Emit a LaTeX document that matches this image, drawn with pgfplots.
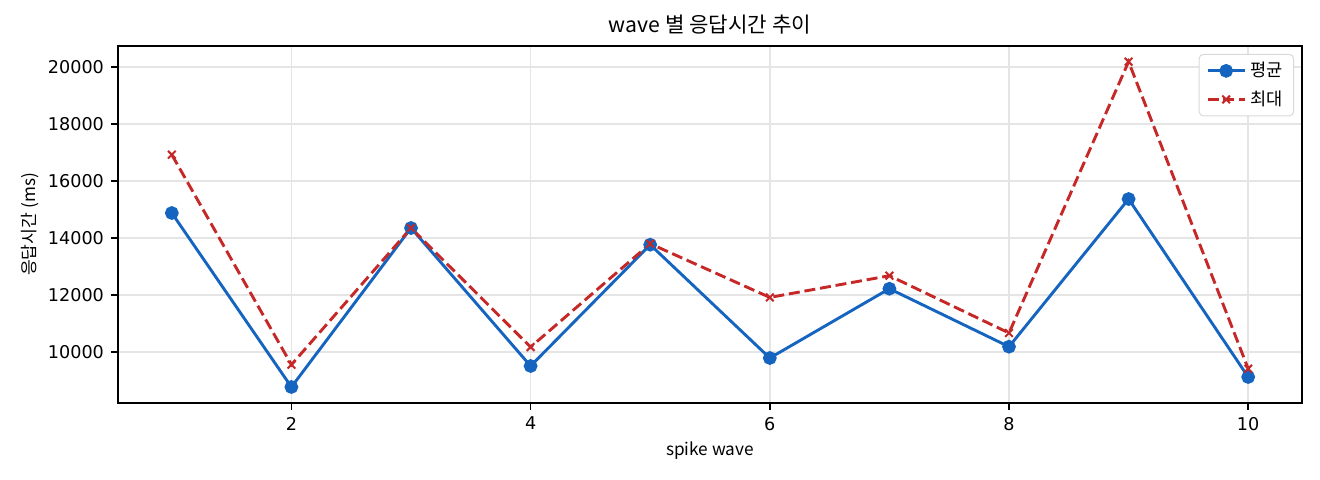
\documentclass[border=0pt]{standalone}
\usepackage{fontspec}
\setmainfont{Noto Sans CJK KR}
\newfontfamily\tickfont{DejaVu Sans}
\usepackage{pgfplots}
\pgfplotsset{compat=1.18}
\definecolor{avgblue}{HTML}{1565C0}
\definecolor{maxred}{HTML}{C62828}
\begin{document}
\begin{tikzpicture}
\useasboundingbox (-59pt,-38.5pt) rectangle (601pt,201.5pt);
\begin{axis}[
  at={(0,0)}, anchor=south west,
  scale only axis,
  width=592pt, height=178.5pt,
  xmin=0.55, xmax=10.45,
  ymin=8211, ymax=20737,
  xtick={2,4,6,8,10},
  ytick={10000,12000,14000,16000,18000,20000},
  /pgf/number format/assume math mode=true,
  /pgf/number format/set thousands separator={},
  scaled y ticks=false,
  tick align=outside,
  major tick length=3.5pt,
  xtick pos=lower, ytick pos=left,
  tick style={black, line width=0.83pt},
  axis line style={black, line width=0.83pt},
  grid=major,
  major grid style={color=black!10, line width=0.83pt},
  tick label style={font=\tickfont\fontsize{8.8}{10.5}\selectfont},
  title={wave 별 응답시간 추이},
  every axis title/.style={at={(axis description cs:0.5,1)}, anchor=base, yshift=6.5pt,
    font=\fontsize{10.6}{13}\selectfont},
  xlabel={spike wave},
  every axis x label/.style={at={(axis description cs:0.5,0)}, anchor=base, yshift=-26.5pt,
    font=\fontsize{8.6}{10.5}\selectfont},
  ylabel={응답시간 (ms)},
  every axis y label/.style={at={(axis description cs:0,0.5)}, xshift=-44pt, rotate=90, anchor=center,
    font=\fontsize{8.6}{10.5}\selectfont},
  legend style={at={(axis description cs:1,1)}, anchor=north east, xshift=-4pt, yshift=-4pt,
    draw=black!15, line width=0.5pt, rounded corners=2pt, fill=white,
    font=\fontsize{8.8}{10.5}\selectfont,
    row sep=1.5pt, inner xsep=3.5pt, inner ysep=1.8pt},
  legend cell align=left,
  legend image code/.code={
    \draw[mark repeat=2,mark phase=2,#1] plot coordinates {(0pt,0pt)(9.25pt,0pt)(18.5pt,0pt)};},
]
\addplot[color=avgblue, line width=1.45pt, mark=*, mark size=2.7pt, mark options={solid, fill=avgblue}]
  coordinates {
  (1,14877) (2,8772) (3,14351) (4,9509) (5,13765)
  (6,9789) (7,12221) (8,10186) (9,15368) (10,9123)
};
\addlegendentry{평균}
\addplot[color=maxred, line width=1.45pt, dash pattern=on 5.5pt off 2.4pt, mark=x, mark size=2.7pt, mark options={solid, line width=1pt}]
  coordinates {
  (1,16923) (2,9554) (3,14351) (4,10175) (5,13800)
  (6,11916) (7,12677) (8,10667) (9,20186) (10,9414)
};
\addlegendentry{최대}
\end{axis}
\end{tikzpicture}
\end{document}
